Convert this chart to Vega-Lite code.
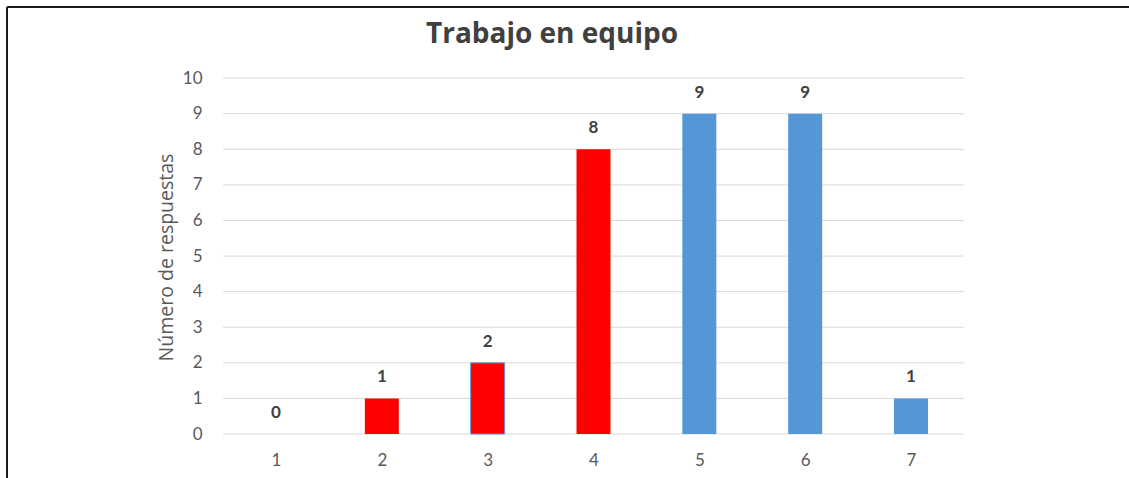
{
  "$schema": "https://vega.github.io/schema/vega-lite/v6.json",
  "width": 1122,
  "height": 471,
  "autosize": {"type": "none"},
  "padding": {"left": 7, "top": 7, "right": 0, "bottom": 0},
  "background": "white",
  "config": {"view": {"stroke": null}, "font": "Lato"},
  "title": {
    "text": "Trabajo en equipo",
    "font": "Open Sans",
    "fontSize": 28,
    "fontWeight": "bold",
    "color": "#404040",
    "anchor": "middle",
    "frame": "group",
    "offset": -43,
    "dx": -16
  },
  "datasets": {
    "respuestas": [
      {"valor": 1, "respuestas": 0, "grupo": "bajo"},
      {"valor": 2, "respuestas": 1, "grupo": "bajo"},
      {"valor": 3, "respuestas": 2, "grupo": "bajo"},
      {"valor": 4, "respuestas": 8, "grupo": "bajo"},
      {"valor": 5, "respuestas": 9, "grupo": "alto"},
      {"valor": 6, "respuestas": 9, "grupo": "alto"},
      {"valor": 7, "respuestas": 1, "grupo": "alto"}
    ],
    "escala": [
      {"nivel": 0}, {"nivel": 1}, {"nivel": 2}, {"nivel": 3}, {"nivel": 4}, {"nivel": 5},
      {"nivel": 6}, {"nivel": 7}, {"nivel": 8}, {"nivel": 9}, {"nivel": 10}
    ]
  },
  "layer": [
    {
      "data": {"name": "escala"},
      "mark": {"type": "rule", "color": "#d9d9d9", "strokeWidth": 1},
      "encoding": {
        "y": {
          "field": "nivel", "type": "quantitative",
          "scale": {"domain": [-1.236, 12], "nice": false, "zero": false, "padding": 0},
          "axis": {
            "values": [0, 1, 2, 3, 4, 5, 6, 7, 8, 9, 10], "format": "d",
            "title": "Número de respuestas", "titleFont": "Open Sans", "titleFontSize": 19.5,
            "titleFontWeight": "normal", "titleColor": "#595959", "titleY": 250,
            "offset": -200, "domain": false, "ticks": false, "grid": false,
            "labelFontSize": 17, "labelColor": "#595959", "labelPadding": 5, "titlePadding": 6
          }
        },
        "x": {
          "datum": 0.5, "type": "quantitative",
          "scale": {"domain": [-1.5418, 9.06], "nice": false, "zero": false, "padding": 0},
          "axis": {
            "values": [1, 2, 3, 4, 5, 6, 7], "format": "d", "title": null,
            "offset": -28, "domain": false, "ticks": false, "grid": false,
            "labelFontSize": 17, "labelColor": "#595959", "labelPadding": 2
          }
        },
        "x2": {"datum": 7.5}
      }
    },
    {
      "data": {"name": "respuestas"},
      "mark": {"type": "bar", "width": 34, "strokeWidth": 1},
      "encoding": {
        "x": {"field": "valor", "type": "quantitative"},
        "y": {"field": "respuestas", "type": "quantitative"},
        "y2": {"datum": 0},
        "color": {
          "field": "grupo", "type": "nominal", "legend": null,
          "scale": {"domain": ["bajo", "alto"], "range": ["#ff0000", "#5597d6"]}
        },
        "stroke": {
          "condition": {"test": "datum.valor === 3", "value": "#5b9bd5"},
          "value": "transparent"
        }
      }
    },
    {
      "data": {"name": "respuestas"},
      "mark": {"type": "text", "dy": -21, "fontSize": 17, "fontWeight": "bold", "color": "#404040"},
      "encoding": {
        "x": {"field": "valor", "type": "quantitative"},
        "y": {"field": "respuestas", "type": "quantitative"},
        "text": {"field": "respuestas", "type": "quantitative"}
      }
    },
    {
      "data": {"values": [{}]},
      "mark": {"type": "rule", "color": "#1a1a1a", "strokeWidth": 2},
      "encoding": {
        "x": {"datum": -1.5418, "type": "quantitative"},
        "x2": {"datum": 9.06},
        "y": {"datum": 12, "type": "quantitative"}
      }
    },
    {
      "data": {"values": [{}]},
      "mark": {"type": "rule", "color": "#1a1a1a", "strokeWidth": 2},
      "encoding": {
        "x": {"datum": -1.5418, "type": "quantitative"},
        "y": {"datum": -1.236, "type": "quantitative"},
        "y2": {"datum": 12}
      }
    }
  ]
}
